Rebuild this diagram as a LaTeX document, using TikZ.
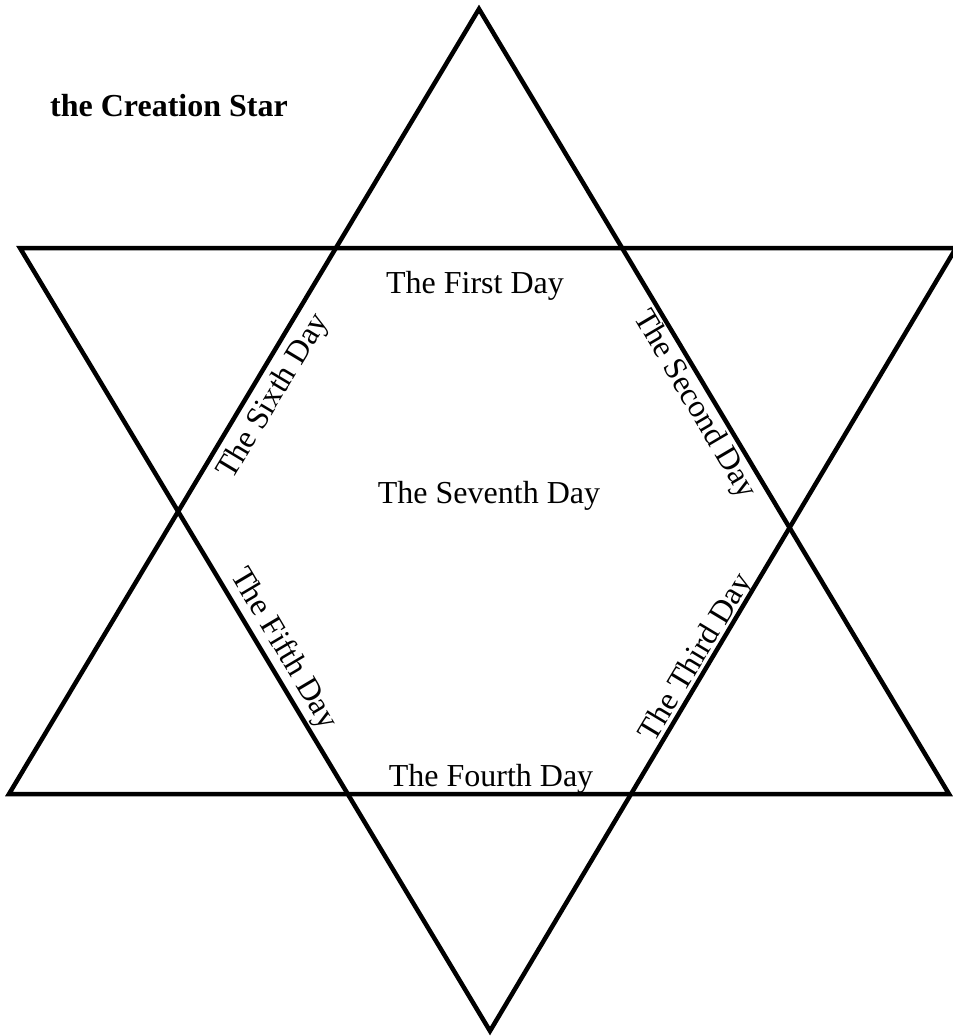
\documentclass[tikz,border=0pt]{standalone}
\usepackage{fontspec}
\setmainfont{Liberation Serif}
\begin{document}
\begin{tikzpicture}[x=1pt,y=-1pt,
  edge/.style={line width=4.5pt, line join=miter, draw=black},
  daylabel/.style={inner sep=0pt, font=\fontsize{32}{32}\selectfont},
  titlelabel/.style={inner sep=0pt, anchor=base west, font=\fontsize{32}{32}\selectfont\bfseries}]
\useasboundingbox (0,0) rectangle (953,1036);
% upward triangle
\coordinate (A) at (479,9);
\coordinate (B) at (9,794);
\coordinate (C) at (949,794);
% downward triangle
\coordinate (D) at (20,248);
\coordinate (E) at (956,248);
\coordinate (F) at (490,1031);
\draw[edge] (A) -- (B) -- (C) -- cycle;
\draw[edge] (D) -- (E) -- (F) -- cycle;
\node[titlelabel] (title) at (50,116) {the Creation Star};
\node[daylabel, anchor=base] (d1) at (475,293) {The First Day};
\node[daylabel, rotate=-59.5] (d2) at (694,405) {The Second Day};
\node[daylabel, rotate=59] (d3) at (697,658) {The Third Day};
\node[daylabel, anchor=base] (d4) at (491,786) {The Fourth Day};
\node[daylabel, rotate=-59.3] (d5) at (283,649) {The Fifth Day};
\node[daylabel, rotate=59] (d6) at (274,397) {The Sixth Day};
\node[daylabel, anchor=base] (d7) at (489,503) {The Seventh Day};
\end{tikzpicture}
\end{document}
